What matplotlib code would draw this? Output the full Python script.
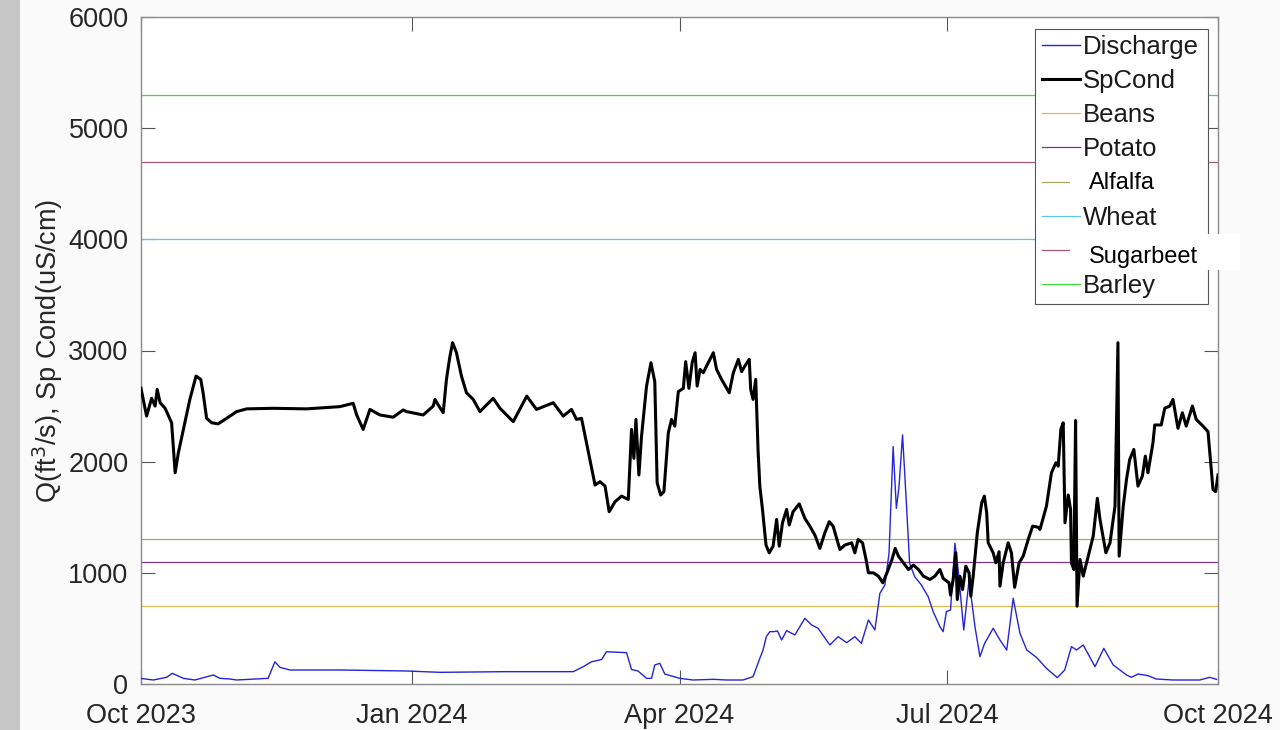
import numpy as np
import pandas as pd
import matplotlib
matplotlib.use('Agg')
from matplotlib import pyplot as plt
import matplotlib.dates as mdates
from matplotlib.patches import Rectangle

plt.rcParams['font.family'] = ['Liberation Sans', 'DejaVu Sans']

start = pd.Timestamp('2023-10-01')
end = pd.Timestamp('2024-10-01')

# specific conductance (uS/cm), days since start
sp_day = [0.0, 1.9, 3.6, 4.8, 5.5, 6.5, 8.2, 10.4, 11.6, 12.7, 14.4, 16.6, 18.7, 20.3, 21.1, 22.3,
          24.0, 26.2, 29.1, 32.5, 35.9, 44.9, 56.3, 67.6, 72.1, 73.3, 75.5, 77.8, 81.2, 85.7, 89.1,
          90.3, 95.9, 99.3, 99.9, 101.0, 102.7, 103.8, 105.0, 105.9, 107.2, 108.9, 110.6, 112.9,
          115.2, 117.4, 119.7, 122.0, 126.5, 131.1, 134.4, 140.1, 143.5, 146.3, 148.0, 149.7,
          151.4, 154.3, 156.0, 157.7, 159.1, 161.1, 163.3, 165.6, 166.7, 167.5, 168.2, 169.2,
          170.1, 171.8, 173.3, 174.6, 175.4, 176.6, 177.7, 179.2, 180.3, 181.4, 182.6, 184.3,
          185.1, 186.2, 187.3, 188.3, 189.0, 190.0, 191.1, 192.2, 194.5, 195.6, 197.3, 199.9,
          201.3, 203.0, 204.1, 205.2, 206.7, 207.2, 208.0, 208.9, 209.7, 210.3, 211.2, 212.4,
          213.5, 214.8, 216.0, 216.9, 218.0, 219.4, 220.3, 221.6, 223.7, 225.6, 227.3, 229.0,
          230.7, 232.4, 233.9, 235.2, 236.4, 237.5, 239.2, 241.5, 242.6, 243.7, 245.2, 246.4,
          247.2, 248.9, 250.6, 252.1, 253.5, 255.2, 256.3, 257.4, 259.1, 260.8, 262.5, 264.2,
          265.9, 268.1, 269.8, 271.5, 272.6, 274.6, 275.1, 276.0, 276.9, 277.4, 278.3, 279.2,
          280.3, 281.4, 282.0, 282.8, 284.2, 285.7, 286.6, 287.4, 287.9, 289.6, 290.5, 291.6,
          291.9, 293.0, 294.7, 295.8, 296.9, 298.4, 299.8, 301.5, 303.0, 304.9, 305.5, 307.7,
          309.4, 310.9, 311.7, 312.6, 313.4, 314.0, 315.1, 315.9, 316.2, 317.0, 317.6, 318.1,
          319.1, 320.2, 321.9, 323.6, 325.0, 325.9, 327.9, 329.3, 331.0, 332.0, 332.4, 333.8,
          334.9, 336.0, 337.4, 338.8, 340.3, 341.3, 342.2, 343.9, 344.5, 346.7, 347.9, 349.6,
          350.7, 352.4, 353.9, 355.2, 357.3, 358.6, 360.9, 362.6, 363.4, 364.3, 365.2, 366.0]
sp_val = [2660, 2410, 2570, 2500, 2650, 2530, 2480, 2350, 1900, 2080, 2290, 2560, 2770, 2740, 2620, 2390,
          2350, 2340, 2390, 2450, 2475, 2480, 2475, 2495, 2525, 2420, 2290, 2470, 2420, 2400, 2465,
          2450, 2420, 2500, 2560, 2510, 2440, 2740, 2950, 3070, 2980, 2770, 2620, 2560,
          2450, 2510, 2570, 2480, 2360, 2590, 2470, 2530, 2410, 2470, 2380, 2390,
          2170, 1790, 1820, 1780, 1550, 1640, 1690, 1660, 2290, 2030, 2380, 1880,
          2230, 2680, 2890, 2720, 1810, 1700, 1730, 2260, 2380, 2320, 2630, 2660,
          2900, 2660, 2890, 2980, 2680, 2830, 2800, 2860, 2980, 2830, 2740, 2620,
          2800, 2920, 2810, 2860, 2920, 2650, 2560, 2740, 2100, 1780, 1570, 1250,
          1180, 1240, 1480, 1240, 1450, 1570, 1430, 1550, 1620, 1490, 1420, 1340,
          1220, 1360, 1460, 1420, 1310, 1210, 1250, 1270, 1180, 1300, 1270, 1120,
          1000, 1000, 970, 910, 1000, 1120, 1220, 1150, 1090, 1030, 1070, 1030,
          970, 940, 970, 1030, 950, 910, 800, 940, 1180, 760, 970, 850,
          1060, 1000, 790, 970, 1360, 1630, 1690, 1540, 1270, 1180, 1090, 1190,
          880, 1090, 1270, 1180, 870, 1090, 1150, 1300, 1420, 1410, 1390, 1600,
          1900, 1990, 1960, 2290, 2350, 1450, 1700, 1570, 1090, 1030, 2370, 700,
          1120, 970, 1150, 1330, 1670, 1480, 1180, 1270, 1600, 3070, 1150, 1600,
          1840, 2020, 2110, 1780, 1870, 2050, 1900, 2170, 2330, 2330, 2480, 2500,
          2560, 2300, 2440, 2320, 2500, 2380, 2320, 2270, 2020, 1750, 1730, 1880]

# discharge (ft3/s), days since start
q_day = [0.0, 4.2, 8.7, 10.6, 14.4, 18.3, 24.6, 26.8, 30.2, 32.5, 43.2, 45.5, 47.2, 50.6, 67.6,
         90.3, 101.6, 124.2, 146.9, 150.3, 153.1, 156.5, 158.2, 165.0, 166.7, 168.9, 171.8,
         173.5, 174.6, 176.3, 178.0, 180.3, 183.1, 187.6, 194.5, 199.0, 204.6, 208.0, 210.3,
         211.4, 212.5, 213.7, 215.0, 216.3, 217.7, 219.4, 222.2, 225.6, 227.9, 230.1, 234.1,
         236.9, 239.8, 242.6, 244.8, 247.2, 249.4, 251.1, 252.8, 254.2, 255.6, 256.7, 257.6,
         258.8, 260.1, 261.2, 262.9, 265.2, 267.5, 269.2, 271.5, 272.6, 273.7, 275.1, 276.6,
         277.7, 279.6, 281.4, 283.4, 285.1, 286.7, 289.6, 291.9, 294.2, 296.4, 298.7, 301.0,
         304.3, 307.7, 311.4, 313.9, 316.2, 317.9, 320.2, 324.2, 327.2, 330.4, 334.9, 336.6,
         338.8, 342.2, 345.0, 350.7, 359.8, 363.2, 365.5]
q_val = [50, 36, 60, 96, 51, 36, 81, 51, 45, 36, 51, 200, 150, 126, 126,
         117, 105, 111, 111, 156, 200, 220, 290, 282, 130, 117, 51,
         51, 171, 186, 90, 72, 51, 36, 42, 36, 36, 66, 231,
         306, 426, 471, 471, 477, 396, 480, 441, 591, 531, 501, 351,
         426, 372, 426, 366, 576, 486, 816, 891, 1176, 2136, 1580, 1776,
         2240, 1626, 1086, 966, 891, 786, 651, 516, 471, 651, 666, 1266,
         1026, 486, 936, 516, 246, 366, 501, 396, 306, 771, 456, 306,
         240, 141, 57, 126, 336, 306, 351, 156, 321, 171, 81, 60,
         90, 75, 45, 36, 36, 60, 42]

# crop salinity thresholds (uS/cm)
crops = ['Beans', 'Potato', 'Alfalfa', 'Wheat', 'Sugarbeet', 'Barley']
limits = [700, 1100, 1300, 4000, 4700, 5300]
crop_colors = ['#dcbc52', '#7a3589', '#aaa862', '#5cc6ec', '#a45a6c', '#3fdc3f']

sp_t = start + pd.to_timedelta(sp_day, unit='D')
q_t = start + pd.to_timedelta(q_day, unit='D')

fig = plt.figure(figsize=(12.8, 7.3), dpi=100, facecolor='#fafafa')
fig.patches.append(Rectangle((0, 0), 20 / 1280, 1, transform=fig.transFigure,
                             facecolor='#c6c6c6', edgecolor='none', zorder=0))
ax = fig.add_axes([141 / 1280, 46 / 730, 1077 / 1280, 667 / 730])
ax.set_facecolor('white')

ax.plot(q_t, q_val, color='#2424d8', lw=1.0, label='Discharge', zorder=3)
ax.plot(sp_t, sp_val, color='black', lw=2.2, label='SpCond', zorder=4)
for name, lim, c in zip(crops, limits, crop_colors):
    ax.plot([start, end], [lim, lim], color=c, lw=0.9, label=name, zorder=2)

ax.set_xlim(start, end)
ax.set_ylim(0, 6000)
ax.set_yticks(np.arange(0, 6001, 1000))
ticks = pd.to_datetime(['2023-10-01', '2024-01-01', '2024-04-01', '2024-07-01', '2024-10-01'])
ax.set_xticks(ticks)
ax.xaxis.set_major_formatter(mdates.DateFormatter('%b %Y'))
ax.tick_params(direction='in', length=10, width=0.8, color='#555555', labelsize=19.5,
               labelcolor='#262626', top=True, right=True)
ax.tick_params(axis='x', pad=14)
ax.tick_params(axis='y', pad=9)
for s in ax.spines.values():
    s.set_color('#8a8a8a')
    s.set_linewidth(1)

ax.set_ylabel('Q(ft$^3$/s), Sp Cond(uS/cm)', fontsize=19.5, color='#262626', labelpad=2)

leg = ax.legend(loc='upper right', bbox_to_anchor=(0.9907, 0.982), borderaxespad=0,
                fontsize=18.5, handlelength=1.5, handletextpad=0.1, labelspacing=0.39,
                borderpad=0.25, fancybox=False, framealpha=1, edgecolor='#555555')
leg.get_frame().set_linewidth(0.8)
for t in leg.get_texts():
    t.set_color('#1a1a1a')

# relabelled entries drawn over the legend
for x0, y0, w, h, txt, ty in [(1070, 160, 123, 40, 'Alfalfa', 183),
                              (1070, 234, 170, 36, 'Sugarbeet', 257)]:
    fig.patches.append(Rectangle((x0 / 1280, 1 - (y0 + h) / 730), w / 1280, h / 730,
                                 transform=fig.transFigure, facecolor='white',
                                 edgecolor='none', zorder=5))
    fig.text(1089 / 1280, 1 - ty / 730, txt, fontsize=17, color='black',
             va='center', ha='left', zorder=6)

fig.savefig('out.png', dpi=100, facecolor=fig.get_facecolor())
